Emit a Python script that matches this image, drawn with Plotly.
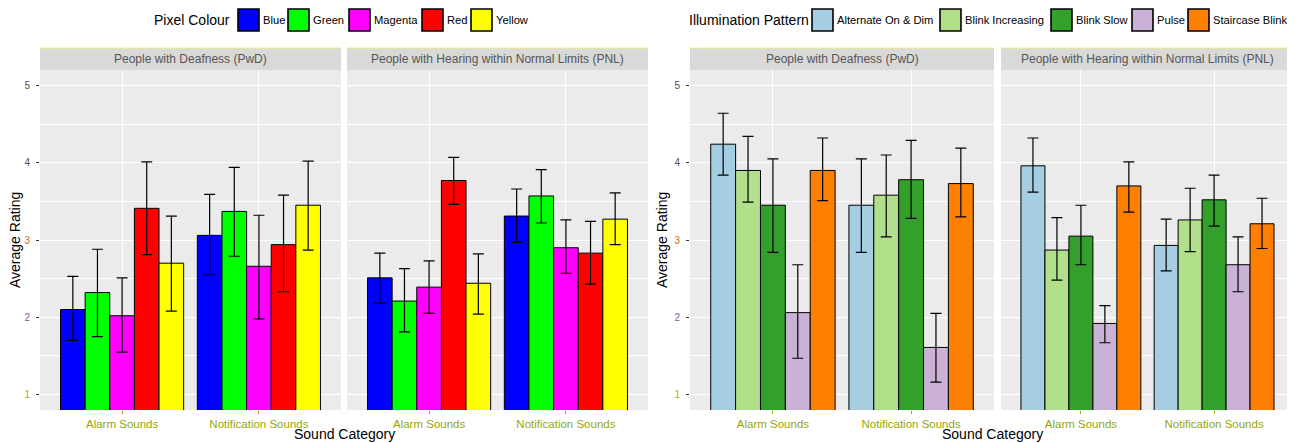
import plotly.graph_objects as go

# ---------------- data ----------------
sound_categories = ["Alarm Sounds", "Notification Sounds"]
groups = ["People with Deafness (PwD)", "People with Hearing within Normal Limits (PNL)"]

colour_levels = ["Blue", "Green", "Magenta", "Red", "Yellow"]
colour_fill = ["#0000FF", "#00FF00", "#FF00FF", "#FF0000", "#FFFF00"]
pattern_levels = ["Alternate On & Dim", "Blink Increasing", "Blink Slow", "Pulse", "Staircase Blink"]
pattern_fill = ["#A6CEE3", "#B2DF8A", "#33A02C", "#CAB2D6", "#FF7F00"]

# values indexed [level][sound category]
colour_pwd_mean = [[2.10, 3.06], [2.32, 3.37], [2.02, 2.66], [3.41, 2.94], [2.70, 3.45]]
colour_pwd_upper = [[2.53, 3.59], [2.88, 3.94], [2.51, 3.32], [4.01, 3.58], [3.31, 4.02]]
colour_pwd_lower = [[1.70, 2.55], [1.75, 2.79], [1.55, 1.98], [2.81, 2.33], [2.08, 2.87]]

colour_pnl_mean = [[2.51, 3.31], [2.21, 3.57], [2.39, 2.90], [3.77, 2.83], [2.44, 3.27]]
colour_pnl_upper = [[2.83, 3.66], [2.63, 3.91], [2.73, 3.26], [4.07, 3.24], [2.82, 3.61]]
colour_pnl_lower = [[2.18, 2.97], [1.81, 3.22], [2.05, 2.57], [3.46, 2.43], [2.04, 2.94]]

pattern_pwd_mean = [[4.24, 3.45], [3.90, 3.58], [3.45, 3.78], [2.06, 1.61], [3.90, 3.73]]
pattern_pwd_upper = [[4.64, 4.05], [4.34, 4.10], [4.05, 4.29], [2.68, 2.05], [4.32, 4.19]]
pattern_pwd_lower = [[3.84, 2.84], [3.49, 3.04], [2.84, 3.28], [1.47, 1.16], [3.51, 3.30]]

pattern_pnl_mean = [[3.96, 2.93], [2.87, 3.26], [3.05, 3.52], [1.92, 2.68], [3.70, 3.21]]
pattern_pnl_upper = [[4.32, 3.27], [3.29, 3.67], [3.45, 3.84], [2.15, 3.04], [4.01, 3.54]]
pattern_pnl_lower = [[3.62, 2.60], [2.48, 2.85], [2.68, 3.18], [1.67, 2.33], [3.36, 2.89]]

y_ticks = [1, 2, 3, 4, 5]
y_tick_colours = ["#A8B400", "#8A5AAA", "#D2691E", "#4D4D4D", "#4D4D4D"]

# ---------------- layout helpers ----------------
PAGE_W, PAGE_H = 1295, 443
BODY_MARGIN = 8          # default page margin around the plot div
W, H = PAGE_W - BODY_MARGIN, PAGE_H - BODY_MARGIN
FONT = "Liberation Sans, Arial, Helvetica, sans-serif"
OLIVE = "#93A800"


def px_x(p):
    """page pixel -> paper fraction"""
    return (p - BODY_MARGIN) / W


def px_y(p):
    return 1 - (p - BODY_MARGIN) / H


panel_px = [(40, 341), (347, 648), (690, 994), (1001, 1294)]
plot_top, plot_bottom = 70, 410
strip_top = 48

# legend placement (page pixels)
legend_specs = [
    ("Pixel Colour", 152, colour_levels, colour_fill, [238, 288, 349, 422, 471]),
    ("Illumination Pattern", 687, pattern_levels, pattern_fill, [812, 940, 1051, 1132, 1188]),
]
legend_y, key_w, key_h = 20, 21, 22

fig = go.Figure()

panels = [
    (colour_levels, colour_fill, colour_pwd_mean, colour_pwd_upper, colour_pwd_lower),
    (colour_levels, colour_fill, colour_pnl_mean, colour_pnl_upper, colour_pnl_lower),
    (pattern_levels, pattern_fill, pattern_pwd_mean, pattern_pwd_upper, pattern_pwd_lower),
    (pattern_levels, pattern_fill, pattern_pnl_mean, pattern_pnl_upper, pattern_pnl_lower),
]

for pi, (levels, fills, mean, upper, lower) in enumerate(panels):
    ax = "" if pi == 0 else str(pi + 1)
    for li, name in enumerate(levels):
        m = mean[li]
        up = [u - v for u, v in zip(upper[li], m)]
        dn = [v - l for v, l in zip(m, lower[li])]
        fig.add_trace(go.Bar(
            x=sound_categories, y=m, name=name,
            marker=dict(color=fills[li], line=dict(color="black", width=1)),
            error_y=dict(type="data", symmetric=False, array=up, arrayminus=dn,
                         color="black", thickness=1.2, width=5.5),
            xaxis="x" + ax, yaxis="y" + ax, showlegend=False,
            hovertemplate="%{x}<br>" + name + ": %{y:.2f}<extra></extra>",
        ))

    x0, x1 = panel_px[pi]
    xa = dict(
        domain=[px_x(x0), min(px_x(x1), 1.0)], anchor="y" + ax,
        type="category", range=[-0.6, 1.6],
        showgrid=True, gridcolor="white", gridwidth=1.2,
        ticks="outside", ticklen=3, tickcolor=OLIVE, tickwidth=1,
        tickfont=dict(family=FONT, size=11.5, color=OLIVE),
        showline=False, zeroline=False,
    )
    ya = dict(
        domain=[px_y(plot_bottom), px_y(plot_top)], anchor="x" + ax,
        range=[0.8, 5.2],
        tickvals=y_ticks,
        ticktext=['<span style="color:%s">%d</span>' % (c, t) for t, c in zip(y_ticks, y_tick_colours)],
        showgrid=True, gridcolor="white", gridwidth=1.2,
        minor=dict(dtick=0.5, tick0=0, showgrid=True, gridcolor="white", gridwidth=0.6),
        zeroline=False, showline=False,
        tickfont=dict(family=FONT, size=10, color="#4D4D4D"),
    )
    if pi in (0, 2):
        ya.update(ticks="outside", ticklen=3, tickcolor="#333333", tickwidth=1,
                  showticklabels=True, ticklabelstandoff=4)
    else:
        ya.update(ticks="", showticklabels=False, matches="y" if pi == 1 else "y3")
    fig.update_layout(**{"xaxis" + ax: xa, "yaxis" + ax: ya})

    # facet strip
    fig.add_shape(type="rect", xref="paper", yref="paper",
                  x0=px_x(x0), x1=px_x(x1), y0=px_y(plot_top), y1=px_y(strip_top),
                  fillcolor="#D9D9D9", line=dict(width=0), layer="below")
    fig.add_shape(type="line", xref="paper", yref="paper",
                  x0=px_x(x0), x1=px_x(x1), y0=px_y(strip_top), y1=px_y(strip_top),
                  line=dict(color="#F5F07A", width=1))
    fig.add_annotation(text=groups[pi % 2], xref="paper", yref="paper",
                       x=(px_x(x0) + min(px_x(x1), 1.0)) / 2, y=px_y((plot_top + strip_top) / 2),
                       showarrow=False, xanchor="center", yanchor="middle",
                       font=dict(family=FONT, size=12, color="#555555"))

# axis titles
for xc, yt in [(15, 240), (662, 240)]:
    fig.add_annotation(text="Average Rating", xref="paper", yref="paper",
                       x=px_x(xc), y=px_y(yt), textangle=-90, showarrow=False,
                       xanchor="center", yanchor="middle",
                       font=dict(family=FONT, size=14, color="black"))
for xc in [(40 + 648) / 2, (690 + 1294) / 2]:
    fig.add_annotation(text="Sound Category", xref="paper", yref="paper",
                       x=px_x(xc), y=px_y(434), showarrow=False,
                       xanchor="center", yanchor="middle",
                       font=dict(family=FONT, size=14, color="black"))

# legends (drawn as keys + labels)
for title, tx, names, fills, key_x in legend_specs:
    fig.add_annotation(text=title, xref="paper", yref="paper",
                       x=px_x(tx), y=px_y(legend_y), showarrow=False,
                       xanchor="left", yanchor="middle",
                       font=dict(family=FONT, size=14, color="black"))
    for name, col, kx in zip(names, fills, key_x):
        fig.add_shape(type="rect", xref="paper", yref="paper",
                      x0=px_x(kx), x1=px_x(kx + key_w),
                      y0=px_y(legend_y + key_h / 2), y1=px_y(legend_y - key_h / 2),
                      fillcolor=col, line=dict(color="black", width=1.6))
        fig.add_annotation(text=name, xref="paper", yref="paper",
                           x=px_x(kx + key_w + 2), y=px_y(legend_y), showarrow=False,
                           xanchor="left", yanchor="middle",
                           font=dict(family=FONT, size=11.2, color="black"))

fig.update_layout(
    width=W, height=H,
    margin=dict(l=0, r=0, t=0, b=0, autoexpand=False),
    paper_bgcolor="white", plot_bgcolor="#EBEBEB",
    barmode="group", bargap=0.1, bargroupgap=0,
    font=dict(family=FONT),
    showlegend=False,
)

fig.write_html("out.html")
